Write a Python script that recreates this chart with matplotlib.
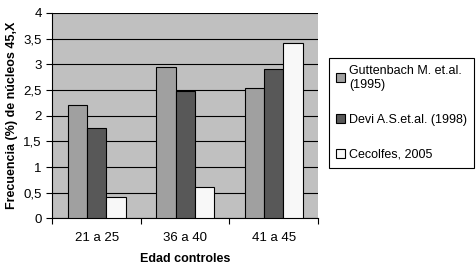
import matplotlib
matplotlib.use("Agg")
import matplotlib.pyplot as plt
import numpy as np
from matplotlib.ticker import FuncFormatter, FixedLocator

plt.rcParams['font.family'] = ['Liberation Sans', 'DejaVu Sans']

categories = ["21 a 25", "36 a 40", "41 a 45"]
series_names = ["Guttenbach M. et.al.\n(1995)", "Devi A.S.et.al. (1998)", "Cecolfes, 2005"]
guttenbach = [2.21, 2.94, 2.53]
devi = [1.75, 2.48, 2.90]
cecolfes = [0.41, 0.62, 3.41]
colors = ["#a0a0a0", "#585858", "#f8f8f8"]

fig = plt.figure(figsize=(4.76, 2.67), dpi=100)
ax = fig.add_axes([0.110, 0.182, 0.558, 0.770])
ax.set_facecolor("#c0c0c0")

x = np.arange(len(categories))
w = 0.218
handles = []
for i, (vals, c, name) in enumerate(zip([guttenbach, devi, cecolfes], colors, series_names)):
    h = ax.bar(x + (i - 1) * w, vals, width=w, color=c, edgecolor="black", linewidth=0.8, label=name, zorder=3)
    handles.append(h)

ax.set_xlim(-0.5, 2.5)
ax.set_ylim(0, 4)
ax.set_yticks(np.arange(0, 4.01, 0.5))
ax.yaxis.set_major_formatter(FuncFormatter(lambda v, p: ("%g" % v).replace(".", ",")))
ax.grid(axis="y", color="black", linewidth=0.8, zorder=1)
ax.set_xticks(x)
ax.set_xticklabels(categories, fontsize=9.5)
ax.tick_params(axis="x", length=0, pad=10)
ax.xaxis.set_minor_locator(FixedLocator([-0.5, 0.5, 1.5, 2.5]))
ax.tick_params(axis="x", which="minor", length=4, direction="out", width=0.8)
ax.tick_params(axis="y", length=4, direction="out", width=0.8, labelsize=9.5)
for s in ["top", "right"]:
    ax.spines[s].set_visible(False)
for s in ["left", "bottom"]:
    ax.spines[s].set_linewidth(0.8)

ax.set_ylabel("Frecuencia (%) de núcleos 45,X", fontsize=9, fontweight="bold", labelpad=4)
ax.set_xlabel("Edad controles", fontsize=9, fontweight="bold", labelpad=6)

leg = fig.legend(handles=handles, loc="upper left", bbox_to_anchor=(0.691, 0.783),
                 fontsize=9, frameon=True, fancybox=False, framealpha=1,
                 edgecolor="black", handlelength=0.7, handleheight=0.7,
                 handletextpad=0.35, labelspacing=1.85, borderpad=0.55, borderaxespad=0)
leg.get_frame().set_linewidth(0.8)

fig.savefig("out.png", dpi=100)
